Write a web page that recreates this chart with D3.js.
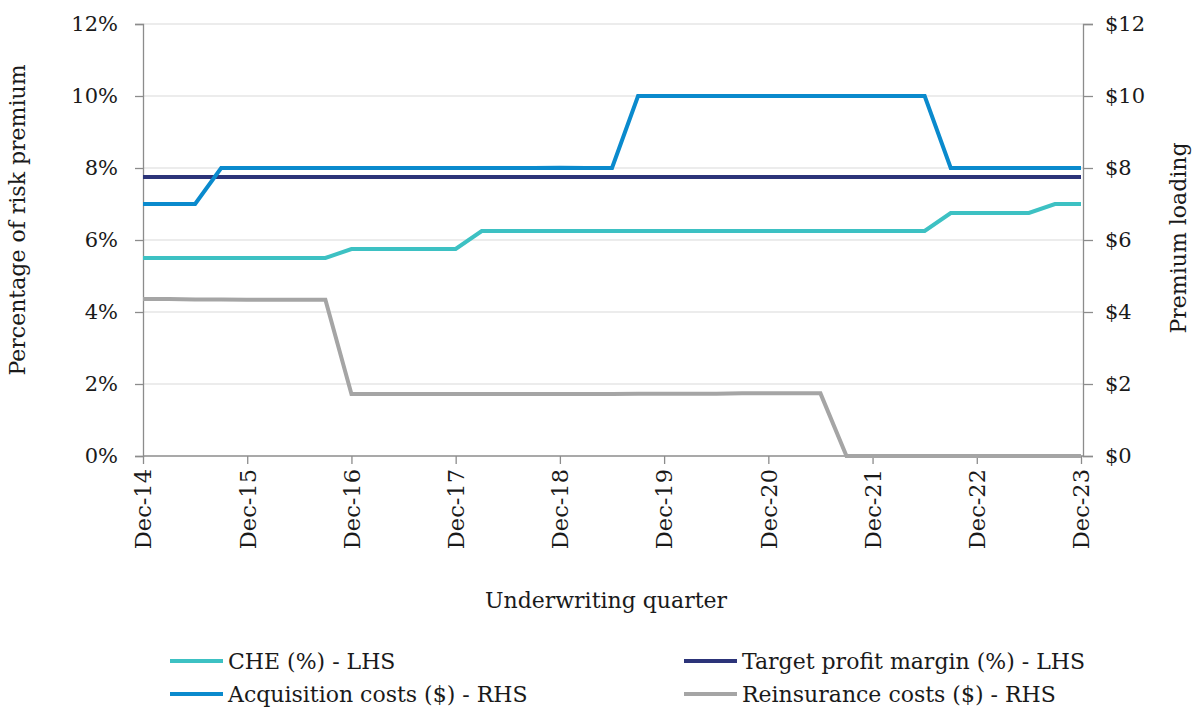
<!DOCTYPE html>
<html><head><meta charset="utf-8">
<script src="https://cdn.jsdelivr.net/npm/d3@7"></script>
<style>
body{margin:0;background:#fff;}
text{font-family:"DejaVu Serif",serif;fill:#1a1a1a;}
</style></head>
<body><svg id="c" width="1194" height="711"></svg>
<script>
// Quarterly points Dec-14 .. Dec-23 (37 points)
const quarters = d3.range(37);
const yearLabels = ["Dec-14","Dec-15","Dec-16","Dec-17","Dec-18","Dec-19","Dec-20","Dec-21","Dec-22","Dec-23"];
const cheValues = [5.5,5.5,5.5,5.5,5.5,5.5,5.5,5.5,5.75,5.75,5.75,5.75,5.75,6.25,6.25,6.25,6.25,6.25,6.25,6.25,6.25,6.25,6.25,6.25,6.25,6.25,6.25,6.25,6.25,6.25,6.25,6.75,6.75,6.75,6.75,7,7];
const targetValues = quarters.map(()=>7.75);
const acquisitionValues = [7,7,7,8,8,8,8,8,8,8,8,8,8,8,8,8,8.01,8,8,10,10,10,10,10,10,10,10,10,10,10,10,8,8,8,8,8,8];
const reinsuranceValues = [4.36,4.36,4.35,4.35,4.34,4.34,4.34,4.34,1.72,1.72,1.72,1.72,1.72,1.72,1.72,1.72,1.72,1.72,1.72,1.73,1.73,1.73,1.73,1.74,1.74,1.74,1.74,0,0,0,0,0,0,0,0,0,0];
const leftTicks = [0,2,4,6,8,10,12];
const series = [
  {name:"CHE (%) - LHS", values:cheValues, color:"#3dc1c3", axis:"L", w:4},
  {name:"Target profit margin (%) - LHS", values:targetValues, color:"#2c3479", axis:"L", w:4},
  {name:"Acquisition costs ($) - RHS", values:acquisitionValues, color:"#0a8acd", axis:"R", w:4},
  {name:"Reinsurance costs ($) - RHS", values:reinsuranceValues, color:"#a5a5a5", axis:"R", w:4}
];
const drawOrder = [3,0,1,2];

const svg = d3.select("#c");
const x0 = 143, x1 = 1081, yTop = 24, yBot = 456;
const x = d3.scaleLinear().domain([0,36]).range([x0,x1]);
const yL = d3.scaleLinear().domain([0,12]).range([yBot,yTop]);
const yR = d3.scaleLinear().domain([0,12]).range([yBot,yTop]);

// gridlines
svg.append("g").selectAll("line").data(leftTicks.filter(d=>d>0)).join("line")
  .attr("x1",x0).attr("x2",x1+2).attr("y1",d=>yL(d)).attr("y2",d=>yL(d))
  .attr("stroke","#d9d9d9").attr("stroke-width",1);

// left axis
const gl = svg.append("g").attr("transform",`translate(${x0},0)`)
  .call(d3.axisLeft(yL).tickValues(leftTicks).tickFormat(d=>d+"%").tickSize(8).tickPadding(17));
// right axis
const gr = svg.append("g").attr("transform",`translate(${x1+2},0)`)
  .call(d3.axisRight(yR).tickValues(leftTicks).tickFormat(d=>"$"+d).tickSize(10).tickPadding(12));
// bottom axis
const gb = svg.append("g").attr("transform",`translate(0,${yBot})`)
  .call(d3.axisBottom(x).tickValues(d3.range(0,37,4)).tickFormat((d,i)=>yearLabels[i]).tickSize(8).tickPadding(8));
[gl,gr,gb].forEach(g=>{
  g.select(".domain").attr("stroke","#8c8c8c").attr("stroke-width",1.3);
  g.selectAll(".tick line").attr("stroke","#8c8c8c").attr("stroke-width",1.3);
  g.selectAll("text").style("font-family","DejaVu Serif, serif").style("font-size","21px").attr("fill","#1a1a1a");
});
gb.selectAll("text").attr("transform","rotate(-90)").attr("text-anchor","end")
  .attr("x",-13).attr("y",0).attr("dy","0.35em").style("font-size","22.5px");
gb.select(".domain").attr("d",`M${x0},0H${x1+2}`);

// lines
drawOrder.forEach(k=>{
  const s = series[k];
  const ys = s.axis==="L"?yL:yR;
  svg.append("path").datum(s.values)
    .attr("fill","none").attr("stroke",s.color).attr("stroke-width",s.w)
    .attr("stroke-linejoin","miter")
    .attr("d",d3.line().x((d,i)=>x(i)).y(d=>ys(d)));
});

// axis titles
svg.append("text").attr("transform","translate(25,220) rotate(-90)").attr("text-anchor","middle")
  .style("font-size","22px").text("Percentage of risk premium");
svg.append("text").attr("transform","translate(1186,238) rotate(-90)").attr("text-anchor","middle")
  .style("font-size","22px").text("Premium loading");
svg.append("text").attr("x",606).attr("y",608).attr("text-anchor","middle")
  .style("font-size","22px").text("Underwriting quarter");

// legend
const legPos = [[170,661],[684,661],[170,694],[684,694]];
series.forEach((s,i)=>{
  const [lx,ly] = legPos[i];
  svg.append("line").attr("x1",lx).attr("x2",lx+53).attr("y1",ly).attr("y2",ly)
    .attr("stroke",s.color).attr("stroke-width",4);
  svg.append("text").attr("x",lx+58).attr("y",ly).attr("dy","0.35em")
    .style("font-size","22px").text(s.name);
});
</script></body></html>
